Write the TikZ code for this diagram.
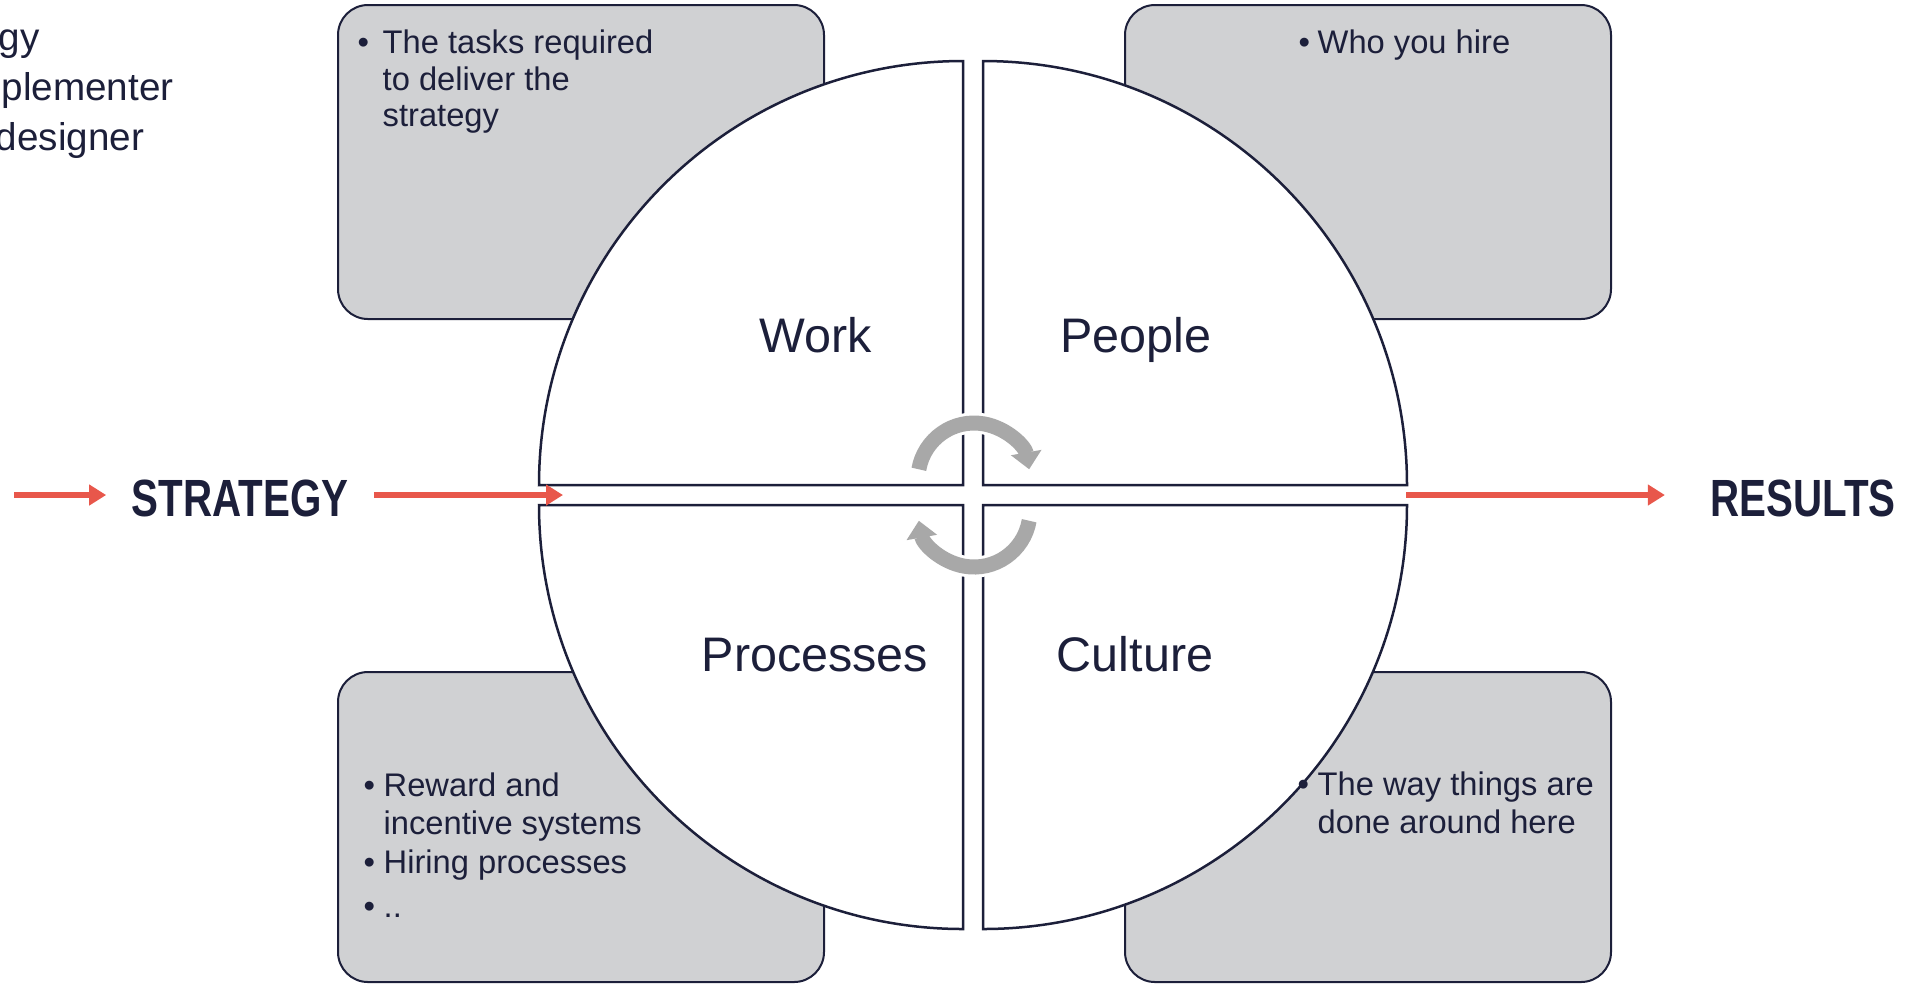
\documentclass[tikz,border=0pt]{standalone}
\usepackage{fontspec}
\setmainfont{Liberation Sans}
\usepackage{tikz}
\usetikzlibrary{arrows.meta,positioning}

\definecolor{navy}{HTML}{1C1F3A}
\definecolor{cardgray}{HTML}{D0D1D3}
\definecolor{loopgray}{HTML}{A8A8A8}
\definecolor{flowred}{HTML}{E8574B}

\begin{document}
\begin{tikzpicture}[x=0.1mm, y=-0.1mm,
  card/.style={draw=navy,line width=0.2mm,fill=cardgray,rounded corners=3mm},
  quad/.style={draw=navy,line width=0.25mm,fill=white},
  txt/.style={inner sep=0,anchor=base west,text=navy,font=\fontsize{9.3}{11}\selectfont},
  side/.style={inner sep=0,anchor=base west,text=navy,font=\fontsize{11}{13}\selectfont},
  lbl/.style={inner sep=0,anchor=base,text=navy,font=\fontsize{13.8}{16}\selectfont},
  big/.style={inner ysep=0,anchor=base,text=navy,xscale=0.77,font=\bfseries\fontsize{14.9}{17}\selectfont},
  flow/.style={draw=flowred,line width=0.55mm,-{Triangle[length=1.7mm,width=2mm]}},
  halo/.style={draw=white,line width=2.1mm},
  loop/.style={draw=loopgray,line width=1.5mm,-{Triangle[length=1.7mm,width=3mm]}}]
                      \useasboundingbox (0,0) rectangle (1906,985);
                      \clip (0,0) rectangle (1906,985);

                      % side notes, cut at the left edge
                      \node[side] (s1) at (-2,50) {gy};
                      \node[side] (s2) at (1,100) {plementer};
                      \node[side] (s3) at (-5,150) {designer};

                      % grey cards behind the circle
                      \draw[card] (338,5) rectangle (824,319);
                      \draw[card] (1125,5) rectangle (1611,319);
                      \draw[card] (338,672) rectangle (824,982);
                      \draw[card] (1125,672) rectangle (1611,982);

                      % the four quarters
                      \draw[quad] (963,485) -- (539,485) arc[start angle=180,end angle=270,radius=424] -- cycle;
                      \draw[quad] (983,485) -- (983,61) arc[start angle=270,end angle=360,radius=424] -- cycle;
                      \draw[quad] (963,505) -- (963,929) arc[start angle=90,end angle=180,radius=424] -- cycle;
                      \draw[quad] (983,505) -- (1407,505) arc[start angle=0,end angle=90,radius=424] -- cycle;

                      \node[lbl] (work) at (816,352) {Work};
                      \node[lbl] (people) at (1136,352) {People};
                      \node[lbl] (processes) at (815,671) {Processes};
                      \node[lbl] (culture) at (1135,671) {Culture};

                      % card texts
                      \node[txt] (b1) at (357,53) {\textbullet};
                      \node[txt] (t1) at (382,53) {The tasks required};
                      \node[txt] (t2) at (382,90) {to deliver the};
                      \node[txt] (t3) at (382,126) {strategy};

                      \node[txt] (b2) at (1298,53) {\textbullet};
                      \node[txt] (t4) at (1317,53) {Who you hire};

                      \node[txt] (b3) at (363,796) {\textbullet};
                      \node[txt] (t5) at (383,796) {Reward and};
                      \node[txt] (t6) at (383,834) {incentive systems};
                      \node[txt] (b4) at (363,873) {\textbullet};
                      \node[txt] (t7) at (383,873) {Hiring processes};
                      \node[txt] (b5) at (363,917) {\textbullet};
                      \node[txt] (t8) at (383,917) {..};

                      \node[txt] (b6) at (1297,795) {\textbullet};
                      \node[txt] (t9) at (1317,795) {The way things are};
                      \node[txt] (t10) at (1317,833) {done around here};

                      % turning arrows in the middle
                      \draw[halo] (974,479) ++(190:56) arc[start angle=190,end angle=334,radius=56];
                      \draw[loop] (974,479) ++(190:56) arc[start angle=190,end angle=350,radius=56];
                      \draw[halo] (974,511) ++(10:56) arc[start angle=10,end angle=154,radius=56];
                      \draw[loop] (974,511) ++(10:56) arc[start angle=10,end angle=170,radius=56];

                      % strategy in, results out
                      \node[big,inner xsep=3.25mm] (strategy) at (240,516) {STRATEGY};
                      \node[big,inner xsep=5.84mm] (results) at (1803,516) {RESULTS};
                      \coordinate (in) at (14,495);
                      \coordinate (hubL) at (563,495);
                      \coordinate (hubR) at (1406,495);
                      \draw[flow] (in) -- (in -| strategy.west);
                      \draw[flow] (strategy.east |- in) -- (hubL);
                      \draw[flow] (hubR) -- (hubR -| results.west);
                    \end{tikzpicture}
\end{document}
